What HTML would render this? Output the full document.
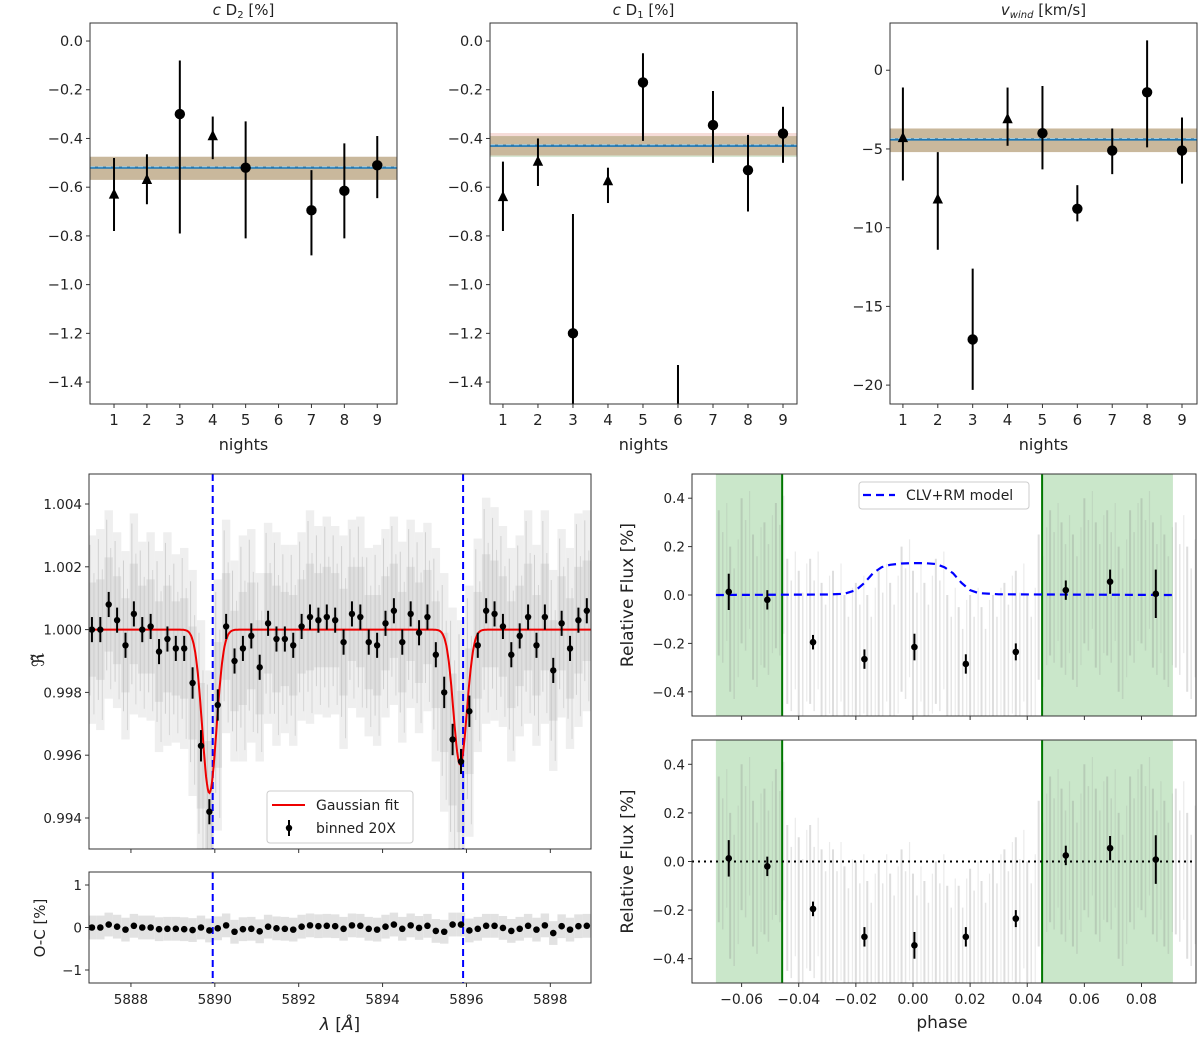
<!DOCTYPE html>
<html><head><meta charset="utf-8">
<style>
html,body{margin:0;padding:0;background:#fff;}
svg{display:block;font-family:"DejaVu Sans","Liberation Sans",sans-serif;}
</style></head>
<body>
<svg id="fig" width="1200" height="1039" viewBox="0 0 1200 1039" xmlns="http://www.w3.org/2000/svg"></svg>
<script>
// ---------- DATA ----------
const nights = [1,2,3,4,5,6,7,8,9];
const cd2Val = [-0.63,-0.57,-0.30,-0.39,-0.52,null,-0.695,-0.615,-0.51];
const cd2Hi  = [-0.48,-0.465,-0.08,-0.31,-0.33,null,-0.53,-0.42,-0.39];
const cd2Lo  = [-0.78,-0.67,-0.79,-0.485,-0.81,null,-0.88,-0.81,-0.645];
const cd2Mark = ['t','t','c','t','c','','c','c','c'];
const cd2Band = [-0.475,-0.52,-0.57];
const cd1Val = [-0.64,-0.495,-1.20,-0.575,-0.17,-1.70,-0.345,-0.53,-0.38];
const cd1Hi  = [-0.495,-0.40,-0.71,-0.52,-0.05,-1.33,-0.205,-0.385,-0.27];
const cd1Lo  = [-0.78,-0.595,-1.70,-0.665,-0.41,-2.10,-0.50,-0.70,-0.50];
const cd1Mark = ['t','t','c','t','c','c','c','c','c'];
const cd1Band = [-0.39,-0.43,-0.47];
const vwVal = [-4.3,-8.2,-17.1,-3.1,-4.0,-8.8,-5.1,-1.4,-5.1];
const vwHi  = [-1.1,-5.2,-12.6,-1.1,-1.0,-7.3,-3.7,1.9,-3.0];
const vwLo  = [-7.0,-11.4,-20.3,-4.8,-6.3,-9.6,-6.6,-4.9,-7.2];
const vwMark = ['t','t','c','t','c','c','c','c','c'];
const vwBand = [-3.7,-4.4,-5.2];
const cdTicks = [0.0,-0.2,-0.4,-0.6,-0.8,-1.0,-1.2,-1.4];
const cdTickLabels = ['0.0','\u22120.2','\u22120.4','\u22120.6','\u22120.8','\u22121.0','\u22121.2','\u22121.4'];
const vwTicks = [0,-5,-10,-15,-20];
const vwTickLabels = ['0','\u22125','\u221210','\u221215','\u221220'];

const specLam = [5887.07,5887.27,5887.47,5887.67,5887.87,5888.07,5888.27,5888.47,5888.67,5888.87,5889.07,5889.27,5889.47,5889.67,5889.87,5890.07,5890.27,5890.47,5890.67,5890.87,5891.07,5891.27,5891.47,5891.67,5891.87,5892.07,5892.27,5892.47,5892.67,5892.87,5893.07,5893.27,5893.47,5893.67,5893.87,5894.07,5894.27,5894.47,5894.67,5894.87,5895.07,5895.27,5895.47,5895.67,5895.87,5896.07,5896.27,5896.47,5896.67,5896.87,5897.07,5897.27,5897.47,5897.67,5897.87,5898.07,5898.27,5898.47,5898.67,5898.87];
const specVal = [1.0000,1.0000,1.0008,1.0003,0.9995,1.0005,1.0000,1.0001,0.9993,0.9997,0.9994,0.9994,0.9983,0.9963,0.9942,0.9976,1.0001,0.9990,0.9994,0.9998,0.9988,1.0002,0.9997,0.9997,0.9995,1.0001,1.0004,1.0003,1.0004,1.0003,0.9996,1.0005,1.0004,0.9996,0.9995,1.0002,1.0006,0.9996,1.0005,0.9999,1.0004,0.9992,0.9980,0.9965,0.9958,0.9974,0.9995,1.0006,1.0005,1.0001,0.9992,0.9998,1.0004,0.9995,1.0004,0.9987,1.0002,0.9994,1.0003,1.0006];
const specErr = [0.0004,0.0004,0.0004,0.0004,0.0004,0.0004,0.0004,0.0004,0.0004,0.0004,0.0004,0.0004,0.0005,0.0005,0.0004,0.0005,0.0004,0.0004,0.0004,0.0004,0.0004,0.0004,0.0004,0.0004,0.0004,0.0004,0.0004,0.0004,0.0004,0.0004,0.0004,0.0004,0.0004,0.0004,0.0004,0.0004,0.0004,0.0004,0.0004,0.0004,0.0004,0.0004,0.0005,0.0005,0.0004,0.0005,0.0004,0.0004,0.0004,0.0004,0.0004,0.0004,0.0004,0.0004,0.0004,0.0004,0.0004,0.0004,0.0004,0.0004];
const specSpread = [0.0030,0.0032,0.0030,0.0028,0.0030,0.0032,0.0028,0.0030,0.0032,0.0034,0.0030,0.0032,0.0036,0.0040,0.0045,0.0040,0.0034,0.0032,0.0036,0.0034,0.0030,0.0032,0.0034,0.0030,0.0032,0.0030,0.0034,0.0030,0.0032,0.0030,0.0034,0.0030,0.0032,0.0030,0.0032,0.0030,0.0030,0.0032,0.0030,0.0032,0.0030,0.0034,0.0038,0.0042,0.0045,0.0040,0.0034,0.0036,0.0034,0.0032,0.0034,0.0032,0.0034,0.0032,0.0034,0.0032,0.0030,0.0032,0.0034,0.0032];
const ocVal = [0.00,0.00,0.07,0.02,-0.05,0.04,0.00,0.00,-0.04,-0.03,-0.03,-0.04,-0.06,0.00,-0.07,-0.02,0.05,-0.10,-0.04,-0.03,-0.09,0.02,-0.02,-0.03,-0.05,0.02,0.05,0.03,0.04,0.03,-0.03,0.05,0.04,-0.03,-0.05,0.02,0.07,-0.03,0.05,-0.01,0.04,-0.08,-0.10,0.07,0.07,-0.07,-0.03,0.04,0.04,-0.01,-0.08,-0.03,0.04,-0.05,0.05,-0.13,0.03,-0.05,0.03,0.04];
const gaussCenter = [5889.87,5895.85];
const gaussDepth = [0.0052,0.0043];
const gaussSigma = [0.17,0.16];
const lineCenters = [5889.95,5895.92];
const specTicks = [5888,5890,5892,5894,5896,5898];
const specYTicks = [1.004,1.002,1.000,0.998,0.996,0.994];
const specYLabels = ['1.004','1.002','1.000','0.998','0.996','0.994'];
const ocTicks = [1,0,-1];
const ocLabels = ['1','0','\u22121'];

const binPhase = [-0.0645,-0.051,-0.035,-0.017,0.0005,0.0185,0.036,0.0535,0.069,0.085];
const binTop = [0.013,-0.02,-0.195,-0.265,-0.215,-0.285,-0.235,0.02,0.055,0.005];
const binBot = [0.013,-0.02,-0.195,-0.31,-0.345,-0.31,-0.235,0.025,0.055,0.008];
const binErr = [0.075,0.04,0.03,0.04,0.055,0.04,0.035,0.04,0.05,0.10];
const rawPhase = [-0.068,-0.064,-0.060,-0.056,-0.052,-0.048,-0.044,-0.040,-0.036,-0.032,-0.028,-0.024,-0.020,-0.016,-0.012,-0.008,-0.004,0.000,0.004,0.008,0.012,0.016,0.020,0.024,0.028,0.032,0.036,0.040,0.044,0.048,0.052,0.056,0.060,0.064,0.068,0.072,0.076,0.080,0.084,0.088,0.092,0.096];
const rawTop = [0.05,-0.10,0.10,-0.05,0.00,0.08,-0.15,-0.20,-0.15,-0.25,-0.20,-0.30,-0.25,-0.30,-0.20,-0.25,-0.10,-0.20,-0.25,-0.15,-0.30,-0.35,-0.30,-0.35,-0.30,-0.25,-0.20,-0.30,-0.05,0.05,0.00,-0.05,0.10,0.00,0.05,-0.10,0.05,0.10,0.00,-0.05,0.00,-0.10];
const rawBot = [0.05,-0.10,0.10,-0.05,0.00,0.08,-0.15,-0.20,-0.15,-0.25,-0.25,-0.32,-0.30,-0.38,-0.30,-0.35,-0.25,-0.35,-0.38,-0.30,-0.40,-0.40,-0.33,-0.38,-0.30,-0.25,-0.20,-0.30,-0.05,0.05,0.00,-0.05,0.10,0.00,0.05,-0.10,0.05,0.10,0.00,-0.05,0.00,-0.10];
const rawErr = 0.30;
const modelPhase = [-0.069,-0.030,-0.024,-0.020,-0.017,-0.014,-0.011,-0.008,-0.004,0.000,0.004,0.008,0.011,0.014,0.017,0.020,0.023,0.030,0.091];
const modelVal = [0.000,0.002,0.005,0.020,0.050,0.090,0.115,0.125,0.130,0.132,0.132,0.128,0.115,0.090,0.050,0.020,0.008,0.003,0.000];
const greenSpans = [[-0.069,-0.0458],[0.0452,0.091]];
const greenLines = [-0.0458,0.0452];
const phaseTicks = [-0.06,-0.04,-0.02,0.00,0.02,0.04,0.06,0.08];
const phaseLabels = ['\u22120.06','\u22120.04','\u22120.02','0.00','0.02','0.04','0.06','0.08'];
const rfTicks = [0.4,0.2,0.0,-0.2,-0.4];
const rfLabels = ['0.4','0.2','0.0','\u22120.2','\u22120.4'];

// ---------- HELPERS ----------
const NS = 'http://www.w3.org/2000/svg';
const svg = document.getElementById('fig');
let clipId = 0;
function el(tag, parent){ const e=document.createElementNS(NS,tag); parent.appendChild(e); return e; }
function nm(e, n, inter){
  
  
  return e;
}
function set(e, o){ for(const k in o) e.setAttribute(k, o[k]); return e; }
function lin(d0,d1,r0,r1){ return v => r0 + (v-d0)*(r1-r0)/(d1-d0); }
function text(parent, x, y, s, size, anchor, name){
  const t = el('text', parent);
  set(t,{x:x,y:y,'font-size':size,'text-anchor':anchor||'middle',fill:'#222'});
  t.textContent = s;
  nm(t, name);
  return t;
}
function makeAxes(name, l, r, t, b){
  const g = el('g', svg); nm(g, name);
  const cp = el('clipPath', g); const id='clip'+(clipId++); cp.setAttribute('id', id);
  const cr = el('rect', cp); set(cr,{x:l,y:t,width:r-l,height:b-t});
  const plot = el('g', g); plot.setAttribute('clip-path','url(#'+id+')'); nm(plot, name+'-plot-area');
  return {g:g, plot:plot, l:l, r:r, t:t, b:b};
}
function frame(ax){
  const f = el('rect', ax.g); set(f,{x:ax.l,y:ax.t,width:ax.r-ax.l,height:ax.b-ax.t,fill:'none',stroke:'#333','stroke-width':1});
  nm(f, 'axes-frame');
}
function yTicks(ax, sy, vals, labels, size, name){
  vals.forEach((v,i)=>{
    const y = sy(v);
    const tk = el('line', ax.g); set(tk,{x1:ax.l-4,x2:ax.l,y1:y,y2:y,stroke:'#333'}); nm(tk, name+'-tick');
    text(ax.g, ax.l-7, y+5, labels[i], size, 'end', name+'-tick-label');
  });
}
function xTicks(ax, sx, vals, labels, size, name){
  vals.forEach((v,i)=>{
    const x = sx(v);
    const tk = el('line', ax.g); set(tk,{x1:x,x2:x,y1:ax.b,y2:ax.b+4,stroke:'#333'}); nm(tk, name+'-tick');
    if(labels) text(ax.g, x, ax.b+21, labels[i], size, 'middle', name+'-tick-label');
  });
}
function vline(parent, x, y1, y2, color, w, op, name){
  const l = el('line', parent); set(l,{x1:x,x2:x,y1:y1,y2:y2,stroke:color,'stroke-width':w,'stroke-opacity':op});
  nm(l, name); return l;
}
function hline(parent, x1, x2, y, color, w, dash, name){
  const l = el('line', parent); set(l,{x1:x1,x2:x2,y1:y,y2:y,stroke:color,'stroke-width':w});
  if(dash) l.setAttribute('stroke-dasharray', dash);
  nm(l, name); return l;
}
function marker(parent, x, y, type, r, name){
  let m;
  if(type==='t'){ m = el('polygon', parent); set(m,{points:(x)+','+(y-r*1.2)+' '+(x-r)+','+(y+r*0.8)+' '+(x+r)+','+(y+r*0.8),fill:'#000'}); }
  else { m = el('circle', parent); set(m,{cx:x,cy:y,r:r,fill:'#000'}); }
  nm(m, name); return m;
}

// ---------- TOP PANELS ----------
function nightPanel(name, title, l, r, xd, yd, val, hi, lo, mk, band, ticks, labels, edges){
  const ax = makeAxes(name, l, r, 23, 404);
  const sx = lin(xd[0], xd[1], l, r), sy = lin(yd[0], yd[1], 23, 404);
  const br = el('rect', ax.plot); set(br,{x:l,y:sy(band[0]),width:r-l,height:sy(band[2])-sy(band[0]),fill:'#c9b89c'}); nm(br,'mean-uncertainty-band');
  if(edges){
    const pk = el('rect', ax.plot); set(pk,{x:l,y:sy(band[0])-3,width:r-l,height:3,fill:'#f6dcd8'}); nm(pk,'band-edge-upper');
    const gn = el('rect', ax.plot); set(gn,{x:l,y:sy(band[2]),width:r-l,height:1.5,fill:'#d7e8d4'}); nm(gn,'band-edge-lower');
  }
  hline(ax.plot, l, r, sy(band[1]), '#1f77b4', 2.2, null, 'mean-line');
  hline(ax.plot, l, r, sy(band[1])-1, '#9ecae1', 1, '5,3', 'mean-dashed-line');
  nights.forEach((n,i)=>{
    if(val[i]===null) return;
    vline(ax.plot, sx(n), sy(hi[i]), sy(lo[i]), '#000', 2, 1, 'errorbar-night-'+n);
    marker(ax.plot, sx(n), sy(val[i]), mk[i], 5.2, 'point-night-'+n);
  });
  frame(ax);
  yTicks(ax, sy, ticks, labels, 14.5, 'y-axis');
  xTicks(ax, sx, nights, nights.map(String), 15, 'x-axis');
  text(ax.g, (l+r)/2, 450, 'nights', 16, 'middle', 'x-axis-title');
  const tt = text(ax.g, (l+r)/2, 15, '', 15, 'middle', 'panel-title');
  tt.innerHTML = title;
}
nightPanel('cd2-panel','<tspan font-style="italic">c</tspan> D<tspan font-size="10" dy="3">2</tspan><tspan dy="-3"> [%]</tspan>',90,397,[0.27,9.6],[0.074,-1.49],cd2Val,cd2Hi,cd2Lo,cd2Mark,cd2Band,cdTicks,cdTickLabels,false);
nightPanel('cd1-panel','<tspan font-style="italic">c</tspan> D<tspan font-size="10" dy="3">1</tspan><tspan dy="-3"> [%]</tspan>',490,797,[0.63,9.4],[0.074,-1.49],cd1Val,cd1Hi,cd1Lo,cd1Mark,cd1Band,cdTicks,cdTickLabels,true);
nightPanel('vwind-panel','<tspan font-style="italic">v</tspan><tspan font-style="italic" font-size="10" dy="3">wind</tspan><tspan dy="-3"> [km/s]</tspan>',890,1197,[0.63,9.43],[3.0,-21.2],vwVal,vwHi,vwLo,vwMark,vwBand,vwTicks,vwTickLabels,false);

// ---------- SPECTRUM PANEL ----------
(function(){
  const ax = makeAxes('spectrum-panel', 89, 591, 474, 849);
  const sx = lin(5887, 5898.97, 89, 591);
  const sy = lin(1.004, 0.994, 504, 818);
  specLam.forEach((lam,i)=>{
    const x = sx(lam);
    const r1 = el('rect', ax.plot); set(r1,{x:x-4.2,y:sy(specVal[i]+specSpread[i]),width:8.4,height:sy(specVal[i]-specSpread[i])-sy(specVal[i]+specSpread[i]),fill:'#efefef'}); nm(r1,'raw-noise-envelope');
    const r2 = el('rect', ax.plot); set(r2,{x:x-4.2,y:sy(specVal[i]+specSpread[i]*0.5),width:8.4,height:sy(specVal[i]-specSpread[i]*0.5)-sy(specVal[i]+specSpread[i]*0.5),fill:'#dedede'}); nm(r2,'raw-noise-core');
    vline(ax.plot, x-2, sy(specVal[i]+specSpread[i]*0.9), sy(specVal[i]-specSpread[i]*0.7), '#bbb', 1, 0.6, 'raw-noise-line');
    vline(ax.plot, x+2, sy(specVal[i]+specSpread[i]*0.6), sy(specVal[i]-specSpread[i]*0.9), '#c4c4c4', 1, 0.6, 'raw-noise-line');
  });
  lineCenters.forEach(c=>{ const l=vline(ax.plot, sx(c), ax.t, ax.b, '#0000ff', 2, 1, 'sodium-line-marker'); l.setAttribute('stroke-dasharray','7,4'); });
  let d='';
  for(let k=0;k<=600;k++){
    const lam = 5887 + k*(11.97/600);
    let v = 1;
    gaussCenter.forEach((c,j)=>{ v -= gaussDepth[j]*Math.exp(-0.5*Math.pow((lam-c)/gaussSigma[j],2)); });
    d += (k?'L':'M')+sx(lam).toFixed(1)+','+sy(v).toFixed(1);
  }
  const p = el('path', ax.plot); set(p,{d:d,fill:'none',stroke:'#ee0000','stroke-width':2}); nm(p,'gaussian-fit-curve');
  specLam.forEach((lam,i)=>{
    vline(ax.plot, sx(lam), sy(specVal[i]+specErr[i]), sy(specVal[i]-specErr[i]), '#000', 2, 1, 'binned-errorbar');
    marker(ax.plot, sx(lam), sy(specVal[i]), 'c', 3.2, 'binned-point');
  });
  frame(ax);
  yTicks(ax, sy, specYTicks, specYLabels, 13.5, 'y-axis');
  xTicks(ax, sx, specTicks, null, 13, 'x-axis');
  const yl = text(ax.g, 0, 0, '\u211C\u0303', 17, 'middle', 'y-axis-title'); yl.setAttribute('transform','translate(44,660) rotate(-90)');
  const lg = el('g', ax.g); nm(lg,'legend');
  const lb = el('rect', lg); set(lb,{x:267,y:791,width:146,height:52,rx:3,fill:'#fff','fill-opacity':0.85,stroke:'#ccc'}); nm(lb,'legend-box');
  hline(lg, 272, 305, 805, '#ee0000', 2, null, 'legend-gaussian-swatch');
  text(lg, 316, 810, 'Gaussian fit', 14, 'start', 'legend-gaussian-label');
  vline(lg, 289, 820, 836, '#000', 2, 1, 'legend-binned-swatch');
  marker(lg, 289, 828, 'c', 3.2, 'legend-binned-marker');
  text(lg, 316, 833, 'binned 20X', 14, 'start', 'legend-binned-label');
})();

// ---------- O-C PANEL ----------
(function(){
  const ax = makeAxes('residual-panel', 89, 591, 872, 983);
  const sx = lin(5887, 5898.97, 89, 591);
  const sy = lin(1, -1, 885, 970);
  specLam.forEach((lam,i)=>{
    const r1 = el('rect', ax.plot); set(r1,{x:sx(lam)-4.2,y:sy(ocVal[i]+0.28),width:8.4,height:sy(ocVal[i]-0.28)-sy(ocVal[i]+0.28),fill:'#e2e2e2'}); nm(r1,'residual-noise');
  });
  lineCenters.forEach(c=>{ const l=vline(ax.plot, sx(c), ax.t, ax.b, '#0000ff', 2, 1, 'sodium-line-marker'); l.setAttribute('stroke-dasharray','7,4'); });
  specLam.forEach((lam,i)=>{ marker(ax.plot, sx(lam), sy(ocVal[i]), 'c', 3.3, 'residual-point'); });
  frame(ax);
  yTicks(ax, sy, ocTicks, ocLabels, 13.5, 'y-axis');
  xTicks(ax, sx, specTicks, specTicks.map(String), 13.5, 'x-axis');
  const yl = text(ax.g, 0, 0, 'O-C [%]', 15, 'middle', 'y-axis-title'); yl.setAttribute('transform','translate(45,928) rotate(-90)');
  const xl = text(ax.g, 340, 1030, '', 17, 'middle', 'x-axis-title'); xl.innerHTML = '<tspan font-style="italic">\u03BB</tspan> [<tspan font-style="italic">\u00C5</tspan>]';
})();

// ---------- PHASE PANELS ----------
function phasePanel(name, t, b, raw, bins, withModel, showX){
  const ax = makeAxes(name, 692, 1196, t, b);
  const sx = lin(-0.06, 0.08, 741.6, 1141.5);
  const sy = lin(0.5, -0.5, t, b);
  greenSpans.forEach(s=>{ const r=el('rect', ax.plot); set(r,{x:sx(s[0]),y:t,width:sx(s[1])-sx(s[0]),height:b-t,fill:'#2ca02c','fill-opacity':0.25}); nm(r,'out-of-transit-region'); });
  rawPhase.forEach((ph,i)=>{
    vline(ax.plot, sx(ph), sy(raw[i]+rawErr), sy(raw[i]-rawErr), '#888', 2, 0.28, 'raw-errorbar');
    vline(ax.plot, sx(ph)+4, sy(raw[i]+rawErr*0.7), sy(raw[i]-rawErr*1.1), '#999', 1.5, 0.25, 'raw-errorbar');
    vline(ax.plot, sx(ph)+8, sy(raw[i]+rawErr*1.1), sy(raw[i]-rawErr*0.8), '#999', 1.2, 0.2, 'raw-errorbar');
  });
  greenLines.forEach(g=>vline(ax.plot, sx(g), t, b, '#007700', 2, 1, 'transit-contact-line'));
  if(withModel){
    let d=''; modelPhase.forEach((ph,i)=>{ d+=(i?'L':'M')+sx(ph).toFixed(1)+','+sy(modelVal[i]).toFixed(1); });
    const p=el('path', ax.plot); set(p,{d:d,fill:'none',stroke:'#0000ff','stroke-width':2.2,'stroke-dasharray':'8,5'}); nm(p,'clv-rm-model-line');
  } else {
    hline(ax.plot, ax.l, ax.r, sy(0), '#000', 2, '2,4', 'zero-line');
  }
  binPhase.forEach((ph,i)=>{
    vline(ax.plot, sx(ph), sy(bins[i]+binErr[i]), sy(bins[i]-binErr[i]), '#000', 2, 1, 'binned-errorbar');
    marker(ax.plot, sx(ph), sy(bins[i]), 'c', 3.3, 'binned-point');
  });
  frame(ax);
  yTicks(ax, sy, rfTicks, rfLabels, 13.5, 'y-axis');
  xTicks(ax, sx, phaseTicks, showX?phaseLabels:null, 14, 'x-axis');
  const yl = text(ax.g, 0, 0, 'Relative Flux [%]', 17, 'middle', 'y-axis-title'); yl.setAttribute('transform','translate(633,'+((t+b)/2)+') rotate(-90)');
  return ax;
}
const topAx = phasePanel('phase-panel-model', 474, 716, rawTop, binTop, true, false);
const lg2 = el('g', topAx.g); nm(lg2,'legend');
const lb2 = el('rect', lg2); set(lb2,{x:859,y:482,width:170,height:27,rx:3,fill:'#fff','fill-opacity':0.85,stroke:'#ccc'}); nm(lb2,'legend-box');
hline(lg2, 863, 895, 495, '#0000ff', 2.2, '8,5', 'legend-model-swatch');
text(lg2, 906, 500, 'CLV+RM model', 14, 'start', 'legend-model-label');
const botAx = phasePanel('phase-panel-corrected', 740, 983, rawBot, binBot, false, true);
text(botAx.g, 942, 1028, 'phase', 17, 'middle', 'x-axis-title');
</script>
</body></html>
